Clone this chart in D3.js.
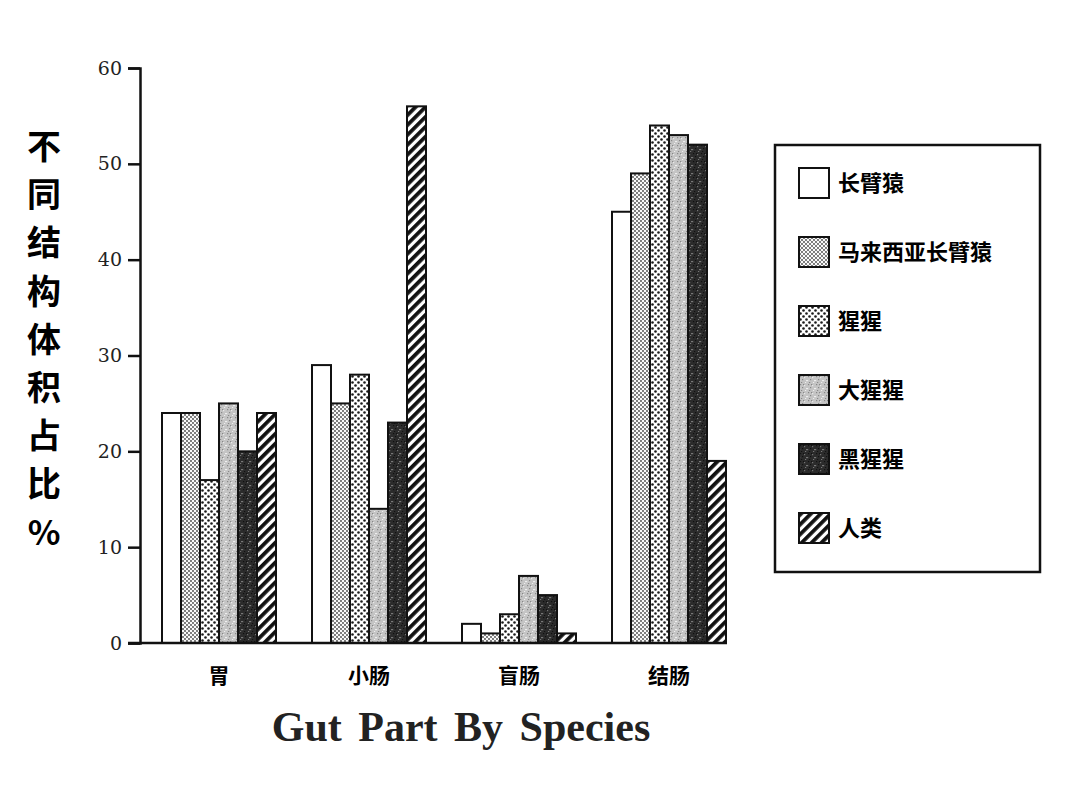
<!DOCTYPE html>
<html>
<head>
<meta charset="utf-8">
<script src="https://cdn.jsdelivr.net/npm/d3@7"></script>
<style>
  body { margin: 0; background: #fff; }
  svg { display: block; }
</style>
</head>
<body>
<svg width="1080" height="800"></svg>
<script>
// gut parts on the x axis, one group each
var parts = ['胃', '小肠', '盲肠', '结肠'];
var species = ['长臂猿', '马来西亚长臂猿', '猩猩', '大猩猩', '黑猩猩', '人类'];

// percent of gut volume, per species, in order of parts
var gibbon    = [24, 29, 2, 45];
var siamang   = [24, 25, 1, 49];
var orangutan = [17, 28, 3, 54];
var gorilla   = [25, 14, 7, 53];
var chimp     = [20, 23, 5, 52];
var human     = [24, 56, 1, 19];

var yTicks = [0, 10, 20, 30, 40, 50, 60];
var yLabel = '不同结构体积占比%';
var xTitle = 'Gut Part By Species';

var series = [gibbon, siamang, orangutan, gorilla, chimp, human];
var fills = ['#fff', 'url(#pSiamang)', 'url(#pOrang)', 'url(#pGorilla)', 'url(#pChimp)', 'url(#pHuman)'];

var svg = d3.select('svg');
var defs = svg.append('defs');

// --- fill patterns ---
var p1 = defs.append('pattern').attr('id', 'pSiamang')
  .attr('patternUnits', 'userSpaceOnUse').attr('width', 4).attr('height', 4);
p1.append('rect').attr('width', 4).attr('height', 4).attr('fill', '#fafafa');
p1.append('circle').attr('cx', 1).attr('cy', 1).attr('r', 0.9).attr('fill', '#444');
p1.append('circle').attr('cx', 3).attr('cy', 3).attr('r', 0.9).attr('fill', '#444');

var p2 = defs.append('pattern').attr('id', 'pOrang')
  .attr('patternUnits', 'userSpaceOnUse').attr('width', 6).attr('height', 6);
p2.append('rect').attr('width', 6).attr('height', 6).attr('fill', '#fff');
p2.append('circle').attr('cx', 1.5).attr('cy', 1.5).attr('r', 1.3).attr('fill', '#1a1a1a');
p2.append('circle').attr('cx', 4.5).attr('cy', 4.5).attr('r', 1.3).attr('fill', '#1a1a1a');

var specks = [[1, 1], [5, 2], [3, 4], [7, 5], [2, 7], [6, 7], [4, 1], [0, 5]];

var p3 = defs.append('pattern').attr('id', 'pGorilla')
  .attr('patternUnits', 'userSpaceOnUse').attr('width', 8).attr('height', 8);
p3.append('rect').attr('width', 8).attr('height', 8).attr('fill', '#c4c4c4');
p3.selectAll('rect.s').data(specks).enter().append('rect')
  .attr('class', 's')
  .attr('x', function(d) { return d[0]; })
  .attr('y', function(d) { return d[1]; })
  .attr('width', 1.2).attr('height', 1.2)
  .attr('fill', function(d, i) { return i % 2 ? '#eee' : '#888'; });

var p4 = defs.append('pattern').attr('id', 'pChimp')
  .attr('patternUnits', 'userSpaceOnUse').attr('width', 8).attr('height', 8);
p4.append('rect').attr('width', 8).attr('height', 8).attr('fill', '#2b2b2b');
p4.selectAll('rect.s').data(specks).enter().append('rect')
  .attr('class', 's')
  .attr('x', function(d) { return d[0]; })
  .attr('y', function(d) { return d[1]; })
  .attr('width', 1.2).attr('height', 1.2)
  .attr('fill', function(d, i) { return i % 2 ? '#777' : '#111'; });

var p5 = defs.append('pattern').attr('id', 'pHuman')
  .attr('patternUnits', 'userSpaceOnUse').attr('width', 7).attr('height', 7)
  .attr('patternTransform', 'rotate(45)');
p5.append('rect').attr('width', 7).attr('height', 7).attr('fill', '#fff');
p5.append('rect').attr('width', 3.8).attr('height', 7).attr('fill', '#111');

// --- scales ---
var y = d3.scaleLinear().domain([0, 60]).range([643, 68]);
var x0 = d3.scaleBand().domain(parts).range([144, 744])
  .paddingInner(0.24).paddingOuter(0.12);
var x1 = d3.scaleBand().domain(d3.range(species.length)).range([0, x0.bandwidth()]);

// --- bars ---
var groups = svg.append('g').selectAll('g')
  .data(parts).enter().append('g')
  .attr('transform', function(d) { return 'translate(' + x0(d) + ',0)'; });

groups.selectAll('rect')
  .data(function(d, pi) { return series.map(function(s, si) { return { si: si, v: s[pi] }; }); })
  .enter().append('rect')
    .attr('x', function(d) { return x1(d.si); })
    .attr('y', function(d) { return y(d.v); })
    .attr('width', x1.bandwidth())
    .attr('height', function(d) { return y(0) - y(d.v); })
    .attr('fill', function(d) { return fills[d.si]; })
    .attr('stroke', '#111')
    .attr('stroke-width', 2);

// --- axes ---
var yAxis = d3.axisLeft(y).tickValues(yTicks).tickSize(12).tickPadding(6);
var gy = svg.append('g').attr('transform', 'translate(140,0)').call(yAxis);
gy.attr('font-family', 'DejaVu Serif, serif').attr('font-size', 19);
gy.select('.domain').attr('stroke', '#111').attr('stroke-width', 2.5);
gy.selectAll('.tick line').attr('stroke', '#111').attr('stroke-width', 2.5);
gy.selectAll('.tick text').attr('fill', '#222');

svg.append('line')
  .attr('x1', 128).attr('x2', x0.range()[1] - 17)
  .attr('y1', y(0)).attr('y2', y(0))
  .attr('stroke', '#111').attr('stroke-width', 2.5);

svg.append('g').selectAll('text')
  .data(parts).enter().append('text')
    .attr('x', function(d) { return x0(d) + x0.bandwidth() / 2; })
    .attr('y', 683)
    .attr('text-anchor', 'middle')
    .attr('font-family', 'Noto Sans CJK SC, sans-serif')
    .attr('font-weight', 'bold')
    .attr('font-size', 21)
    .text(function(d) { return d; });

svg.append('text')
  .attr('x', 461).attr('y', 741)
  .attr('text-anchor', 'middle')
  .attr('font-family', 'Liberation Serif, serif')
  .attr('font-weight', 'bold')
  .attr('font-size', 42)
  .attr('word-spacing', 6)
  .attr('fill', '#222')
  .text(xTitle);

// vertical y label, one character per line
svg.append('g').selectAll('text')
  .data(yLabel.split('')).enter().append('text')
    .attr('x', 44)
    .attr('y', function(d, i) { return 159 + i * 48.2; })
    .attr('text-anchor', 'middle')
    .attr('font-family', 'Noto Sans CJK SC, sans-serif')
    .attr('font-weight', 'bold')
    .attr('font-size', 34)
    .text(function(d) { return d; });

// --- legend ---
var legend = svg.append('g');
legend.append('rect')
  .attr('x', 775).attr('y', 145).attr('width', 265).attr('height', 427)
  .attr('fill', '#fff').attr('stroke', '#111').attr('stroke-width', 2.5);

var items = legend.selectAll('g.item')
  .data(species).enter().append('g')
  .attr('class', 'item')
  .attr('transform', function(d, i) { return 'translate(799,' + (168 + i * 69) + ')'; });

items.append('rect')
  .attr('width', 30).attr('height', 30)
  .attr('fill', function(d, i) { return fills[i]; })
  .attr('stroke', '#111').attr('stroke-width', 2);

items.append('text')
  .attr('x', 39).attr('y', 23)
  .attr('font-family', 'Noto Sans CJK SC, sans-serif')
  .attr('font-weight', 'bold')
  .attr('font-size', 22)
  .text(function(d) { return d; });
</script>
</body>
</html>
